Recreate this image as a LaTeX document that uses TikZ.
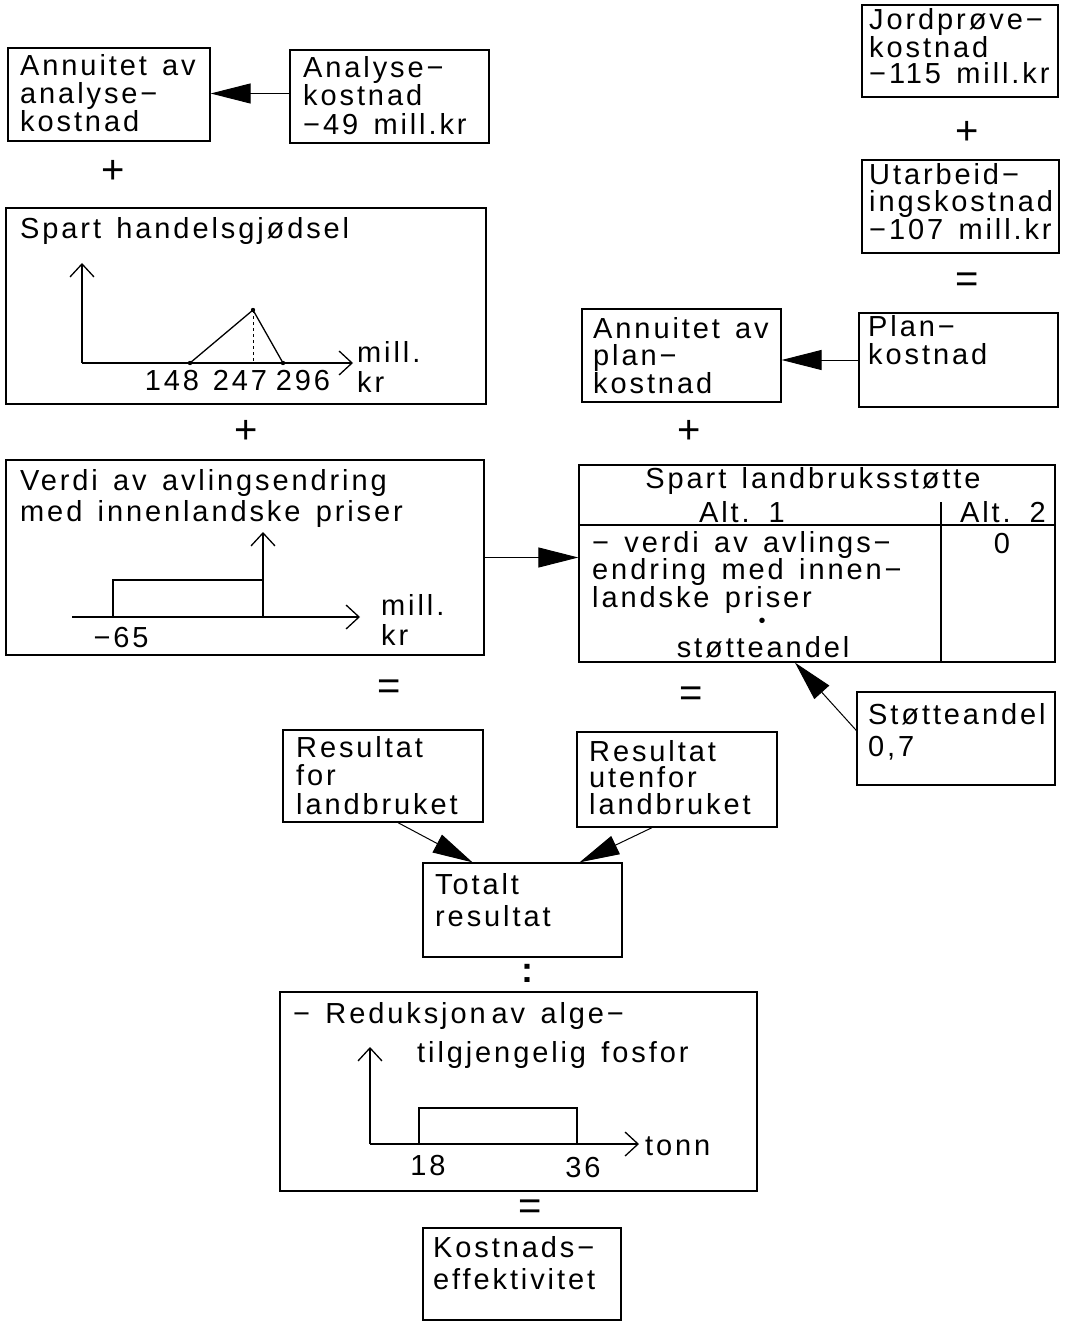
\documentclass[tikz,border=0pt]{standalone}
\usepackage{fontspec}
\setmainfont{Liberation Sans}[LetterSpace=10,WordSpace=1.4]
\usetikzlibrary{arrows.meta,fit,calc}

% text block whose first baseline sits at the given y
\newcommand\tblock[5][28]{\node[tx=#1] (#2) at (#3,#4-22) {#5};}
% rectangle node spanning two corners
\newcommand\boxat[5]{\node[bx,fit={(#2,#3)(#4,#5)}] (#1) {};}

\begin{document}
\begin{tikzpicture}[x=1pt,y=-1pt,
  bx/.style={draw,line width=1.3pt,inner sep=0pt},
  tx/.style={font=\fontsize{29}{#1}\selectfont,inner sep=0pt,anchor=north west,
             align=left,execute at begin node={\rule{0pt}{22pt}}},
  tx/.default=28,
  lb/.style={font=\fontsize{29}{28}\selectfont,inner sep=0pt,anchor=base},
  lbw/.style={font=\fontsize{29}{28}\selectfont,inner sep=0pt,anchor=base west},
  sym/.style={font=\fontsize{40}{40}\selectfont,inner sep=0pt},
  conn/.style={line width=1pt,-{Triangle[length=40pt,width=20pt]}},
  axis/.style={line width=1.3pt,-{Straight Barb[length=13pt,width=24pt]}},
  curve/.style={line width=1.3pt},
]
\fill[white] (0,0) rectangle (1067,1321);
\useasboundingbox (0,0) rectangle (1067,1321);

% ---------- analysis cost ----------
\boxat{annA}{8}{48}{210}{141}
\tblock{annAt}{20}{76}{Annuitet av\\analyse−\\kostnad}
\boxat{anaK}{290}{50}{489}{143}
\tblock[28.5]{anaKt}{303}{78}{Analyse−\\kostnad\\−49 mill.kr}
\coordinate (anaKout) at ([yshift=3pt]anaK.west);
\draw[conn] (anaKout) -- (annA.east |- anaKout);
\node[sym] (plus1) at (113,172) {+};

% ---------- saved fertiliser ----------
\boxat{fert}{6}{208}{486}{404}
\tblock{fertt}{20}{238}{Spart handelsgjødsel}
\draw[axis] (82,363) -- (82,263);
\draw[axis] (82,363) -- (353,363);
\draw[curve] (190,363) -- (253,310) -- (283,363);
\draw[dashed,line width=1pt] (253,310) -- (253,363);
\fill (190,363) circle (2.2) (253,310) circle (2.2) (283,363) circle (2.2);
\node[lb] (f148) at (172,390) {148};
\node[lb] (f247) at (240,390) {247};
\node[lb] (f296) at (303,390) {296};
\node[lbw] (fmill) at (357,362) {mill.};
\node[lbw] (fkr) at (357,392) {kr};
\node[sym] (plus2) at (246,432) {+};

% ---------- yield change ----------
\boxat{yld}{6}{460}{484}{655}
\tblock[31]{yldt}{20}{491}{Verdi av avlingsendring\\med innenlandske priser}
\draw[axis] (72,617) -- (360,617);
\draw[axis] (263,617) -- (263,532);
\draw[curve] (113,617) -- (113,580) -- (263,580);
\node[lb] (y65) at (121,647) {−65};
\node[lbw] (ymill) at (381,615) {mill.};
\node[lbw] (ykr) at (381,645) {kr};
\node[sym] (eq1) at (389,690) {=};

% ---------- plan cost ----------
\boxat{jord}{862}{5}{1058}{97}
\tblock[26.5]{jordt}{869}{30}{Jordprøve−\\kostnad\\−115 mill.kr}
\node[sym] (plus3) at (967,133) {+};
\boxat{utarb}{862}{160}{1059}{253}
\tblock[27.5]{utarbt}{869}{185}{Utarbeid−\\ingskostnad\\−107 mill.kr}
\node[sym] (eq2) at (967,283) {=};
\boxat{plan}{859}{313}{1058}{407}
\tblock[28]{plant}{868}{337}{Plan−\\kostnad}
\boxat{annP}{582}{309}{781}{402}
\tblock[27.5]{annPt}{593}{339}{Annuitet av\\plan−\\kostnad}
\draw[conn] (plan.west) -- (annP.east |- plan.west);
\node[sym] (plus4) at (689,432) {+};

% ---------- saved farm support ----------
\boxat{tab}{579}{465}{1055}{662}
\draw[line width=1.3pt] (tab.west |- 0,525) -- (tab.east |- 0,525);
\draw[line width=1.3pt] (941,502) -- (941,662);
\node[lb] (tabT) at (813,488) {Spart landbruksstøtte};
\node[lb] (alt1) at (742,522) {Alt. 1};
\node[lb] (alt2) at (1003,522) {Alt. 2};
\tblock[27.5]{tabL}{592}{553}{− verdi av avlings−\\endring med innen−\\landske priser}
\node[font=\fontsize{20}{20}\selectfont,inner sep=0pt] (tabDot) at (762,623) {•};
\node[lb] (tabS) at (763,657) {støtteandel};
\node[lb] (tab0) at (1002,553) {0};
\draw[conn] (yld.east) -- (tab.west |- yld.east);

\boxat{andel}{857}{692}{1055}{785}
\tblock[32]{andelt}{868}{725}{Støtteandel\\0,7}
\coordinate (andelout) at ([yshift=8pt]andel.west);
\coordinate (tabin) at ($(tab.south)+(-22,0)$);
\draw[conn] (andelout) -- (tabin);
\node[sym] (eq3) at (691,697) {=};

% ---------- results ----------
\boxat{resA}{283}{730}{483}{822}
\tblock[28.5]{resAt}{296}{758}{Resultat\\for\\landbruket}
\boxat{resB}{577}{732}{777}{827}
\tblock[26.5]{resBt}{589}{762}{Resultat\\utenfor\\landbruket}
\boxat{tot}{423}{863}{622}{957}
\tblock[32]{tott}{435}{895}{Totalt\\resultat}
\coordinate (resAout) at ($(resA.south)+(15,0)$);
\coordinate (resBout) at ($(resB.south)+(-25,0)$);
\coordinate (totinA) at ($(tot.north)+(-50,0)$);
\coordinate (totinB) at ($(tot.north)+(57,0)$);
\draw[conn] (resAout) -- (totinA);
\draw[conn] (resBout) -- (totinB);
\node[font=\fontsize{36}{36}\selectfont\bfseries,inner sep=0pt] (colon) at (527,973) {:};

% ---------- phosphorus reduction ----------
\boxat{red}{280}{992}{757}{1191}
\node[lbw] (redA) at (293,1023) {− Reduksjon\hspace{6pt}av alge−};
\node[lbw] (redB) at (417,1062) {tilgjengelig fosfor};
\draw[axis] (370,1144) -- (370,1047);
\draw[axis] (370,1144) -- (639,1144);
\draw[curve] (419,1144) -- (419,1108) -- (577,1108) -- (577,1144);
\node[lb] (r18) at (428,1175) {18};
\node[lb] (r36) at (583,1177) {36};
\node[lbw] (rton) at (645,1155) {tonn};
\node[sym] (eq4) at (530,1210) {=};

\boxat{eff}{423}{1228}{621}{1320}
\tblock[32]{efft}{433}{1258}{Kostnads−\\effektivitet}
\end{tikzpicture}
\end{document}
